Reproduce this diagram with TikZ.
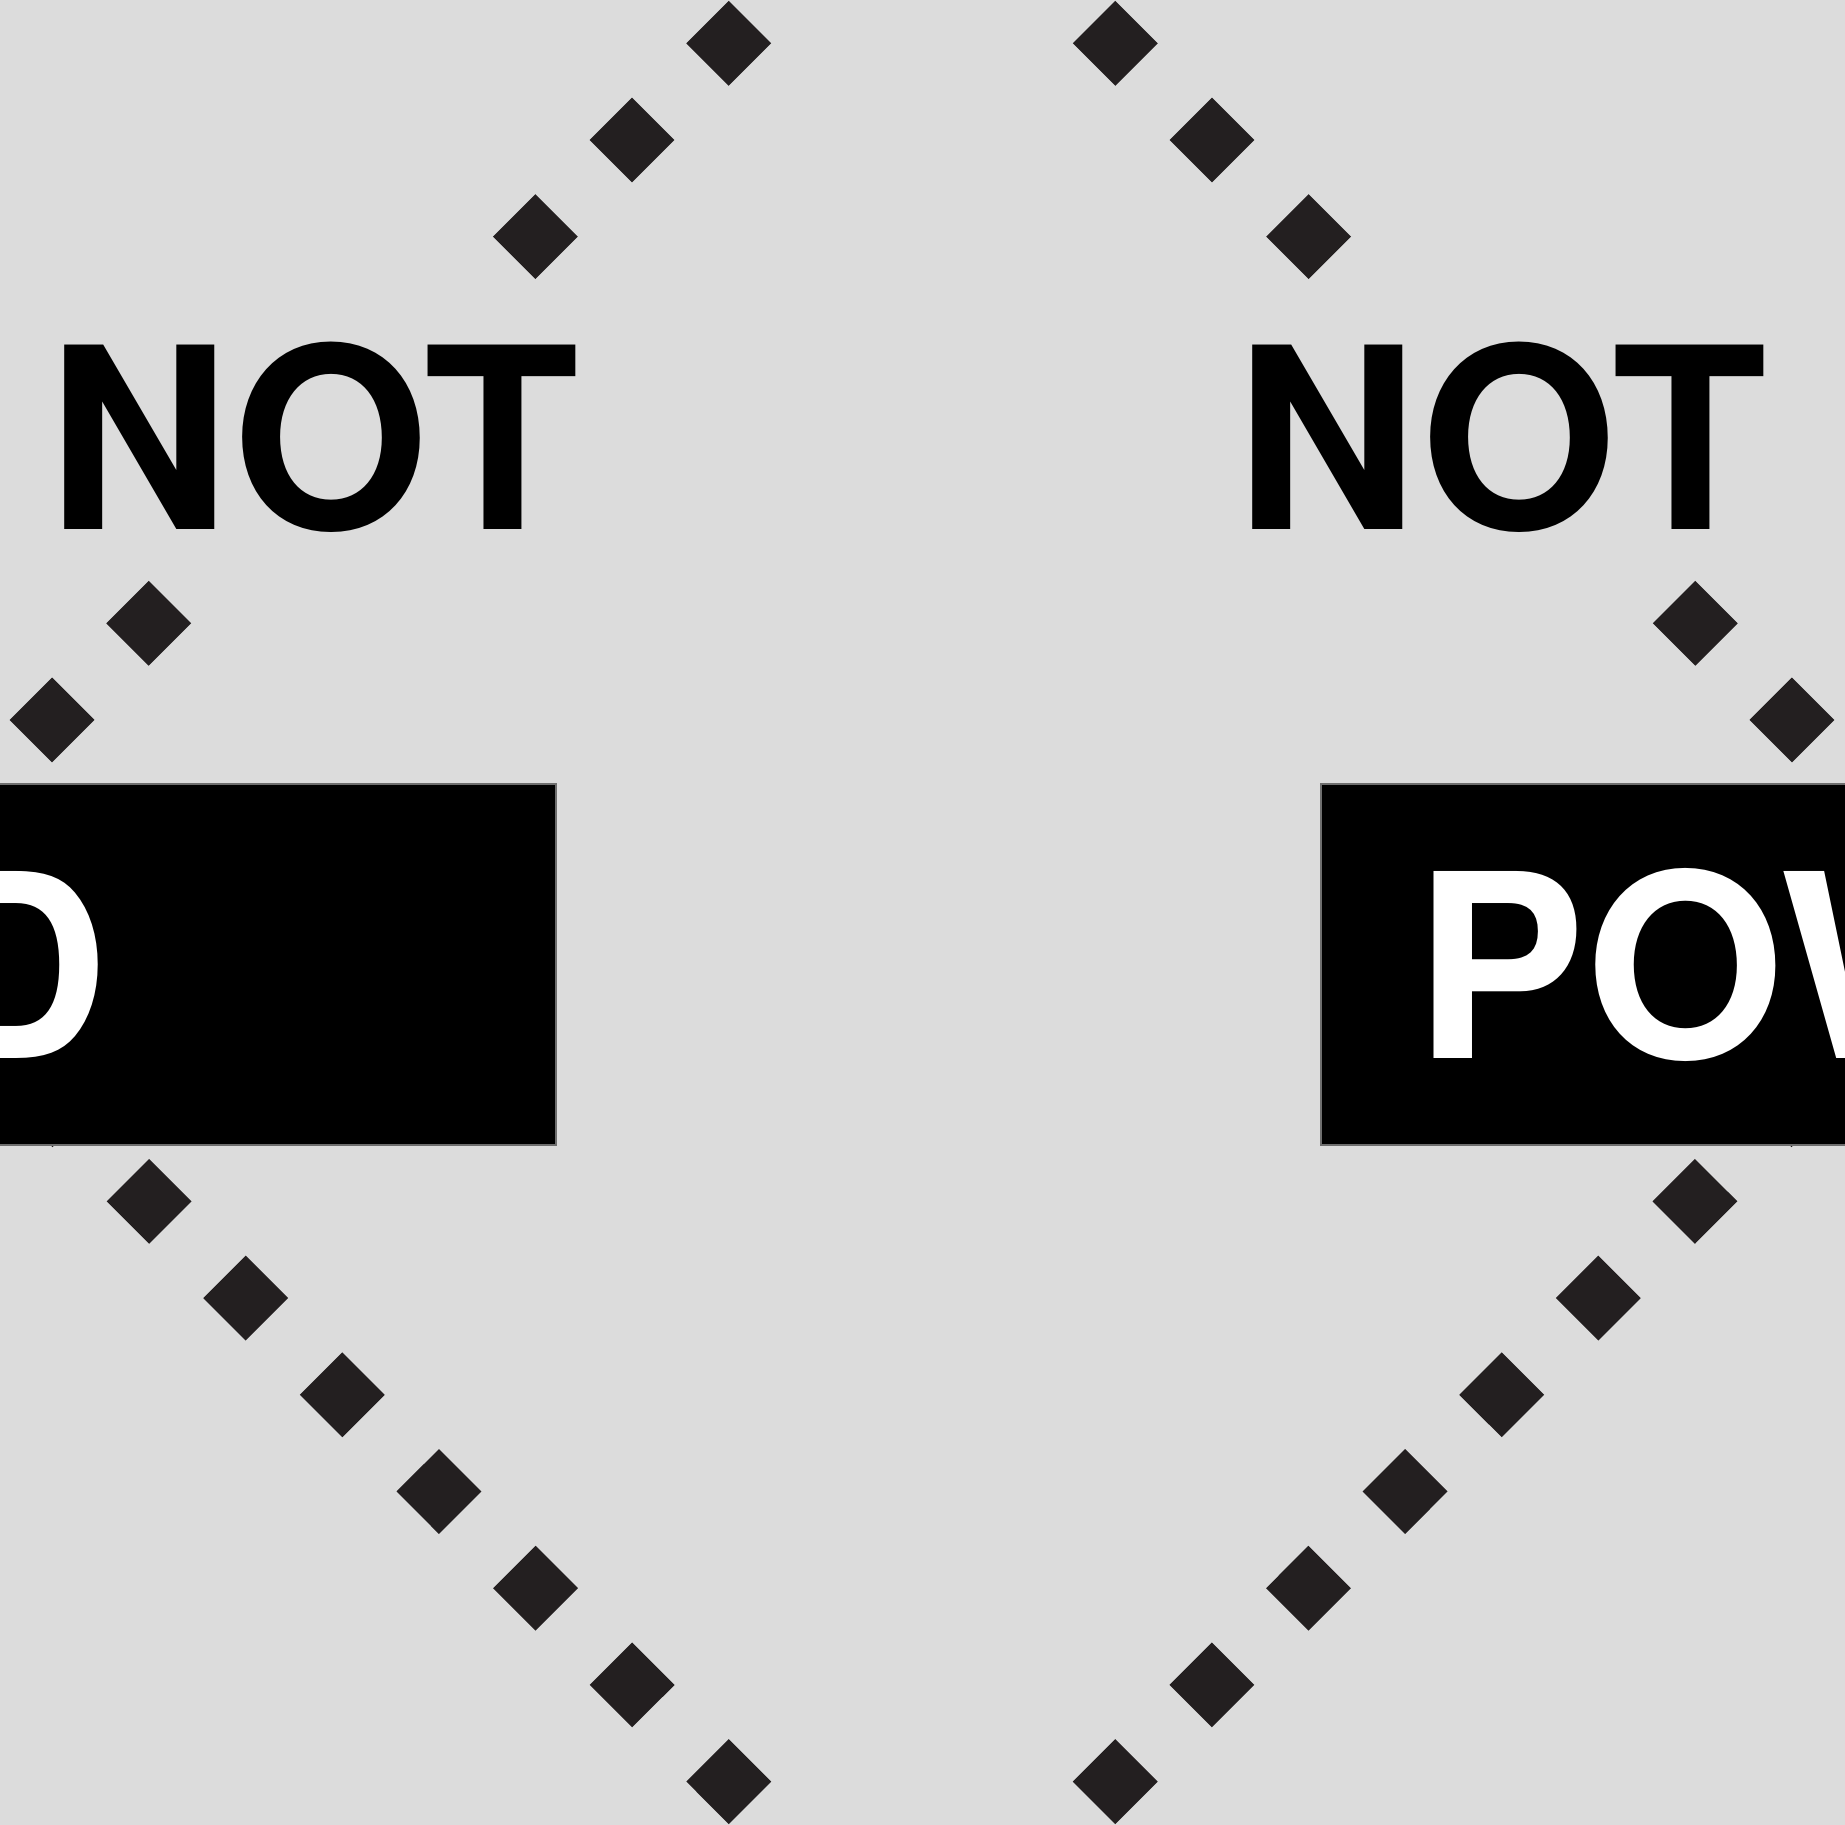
\documentclass[tikz,border=0pt]{standalone}
\usepackage{fontspec}
\setmainfont{TeX Gyre Heros}
\usepackage{tikz}
\usetikzlibrary{positioning}
\definecolor{paper}{RGB}{220,220,220}
\definecolor{dotink}{RGB}{35,31,32}
\definecolor{rim}{RGB}{110,110,110}

\begin{document}
\begin{tikzpicture}[x=0.1mm, y=-0.1mm,
  dotline/.style={draw=dotink, line width=6mm,
    dash pattern=on 6mm off 7.67mm, dash phase=3mm},
  gate/.style={fill=paper, text=black, inner xsep=2mm, inner ysep=4.4mm,
    text height=20mm, text depth=0.5mm, anchor=base,
    font=\fontsize{72}{80}\selectfont\bfseries},
  signal/.style={fill=black, draw=rim, line width=0.2mm, inner sep=0pt,
    minimum height=36.1mm},
  sigtext/.style={text=white, inner sep=0pt,
    font=\fontsize{73}{80}\selectfont\bfseries}
 ]
\useasboundingbox (0,0) rectangle (1845,1825);
\clip (0,0) rectangle (1845,1825);
\fill[paper] (0,0) rectangle (1845,1825);

\coordinate (top) at (922,-150);
\coordinate (bot) at (922,1975);
\coordinate (west) at (-140,912);
\coordinate (east) at (1984,912);

\draw[dotline] (top) -- (west);
\draw[dotline] (top) -- (east);
\draw[dotline] (bot) -- (west);
\draw[dotline] (bot) -- (east);

\node[gate] (lnot) at (313.5,529) {NOT};
\node[gate] (rnot) at (1501,529) {NOT};

\node[signal, minimum width=95.7mm, anchor=east] (lbox) at (557,964.5) {};
\node[signal, minimum width=80mm, anchor=west] (rbox) at (1319.5,964.5) {};
\node[sigtext, anchor=base east] (ltxt) at (109,1058) {D};
\node[sigtext, anchor=base west] (rtxt) at (1414,1058) {POW};
\end{tikzpicture}
\end{document}
